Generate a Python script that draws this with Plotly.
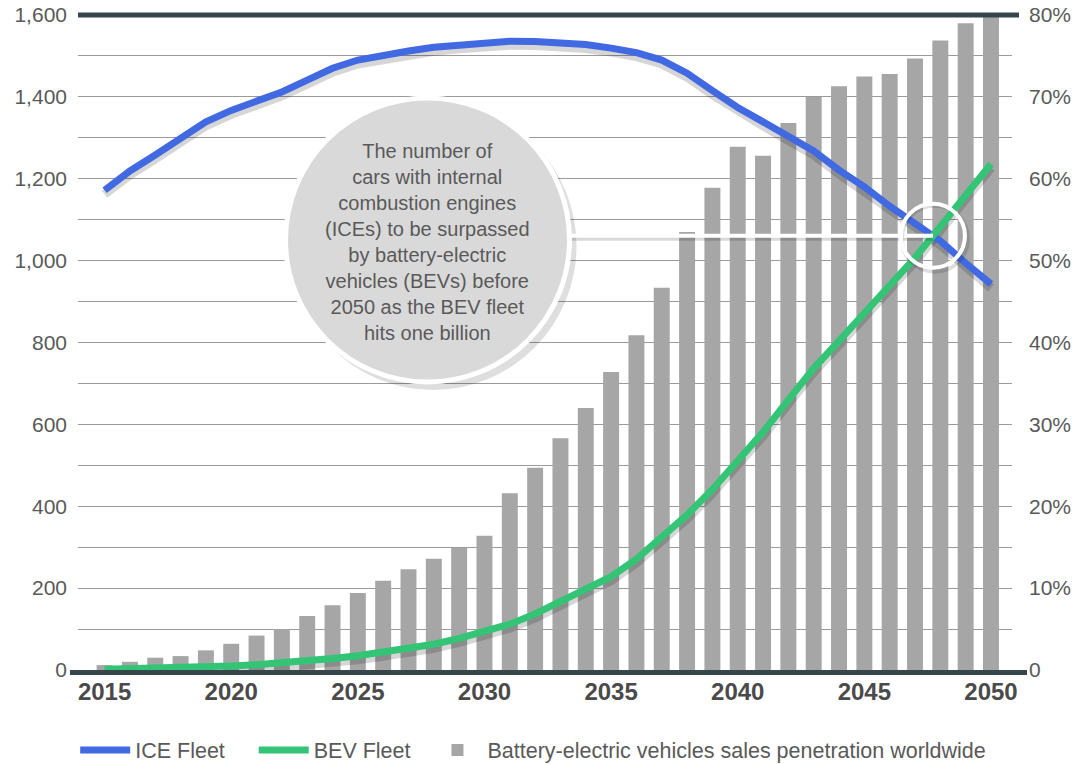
import plotly.graph_objects as go

years = list(range(2015, 2051))

# Battery-electric vehicles sales penetration worldwide (share)
bev_share = [0.6, 1.0, 1.5, 1.7, 2.4, 3.2, 4.2, 5.0, 6.6, 7.9,
             9.4, 10.9, 12.3, 13.6, 14.9, 16.4, 21.6, 24.7, 28.3, 32.0,
             36.4, 40.9, 46.7, 53.5, 58.9, 63.9, 62.8, 66.8, 70.0, 71.3,
             72.5, 72.8, 74.7, 76.9, 79.0, 80.0]

# ICE fleet (millions)
ice_fleet = [1172, 1219, 1258, 1301, 1339, 1367, 1389, 1412, 1441, 1470,
             1490, 1502, 1512, 1521, 1527, 1533, 1536, 1535, 1533, 1528,
             1519, 1508, 1490, 1458, 1415, 1374, 1339, 1303, 1268, 1221,
             1180, 1133, 1092, 1048, 994, 943]

# BEV fleet (millions)
bev_fleet = [2, 3, 4, 5, 7, 10, 13, 17, 22, 28,
             35, 43, 52, 63, 77, 93, 112, 137, 166, 195,
             228, 271, 325, 379, 441, 508, 581, 660, 737, 804,
             870, 938, 1007, 1083, 1160, 1236]

left_ticks = [0, 200, 400, 600, 800, 1000, 1200, 1400, 1600]
right_ticks = [0, 0.1, 0.2, 0.3, 0.4, 0.5, 0.6, 0.7, 0.8]
right_text = ["0", "10%", "20%", "30%", "40%", "50%", "60%", "70%", "80%"]
x_ticks = [2015, 2020, 2025, 2030, 2035, 2040, 2045, 2050]

legend_names = ["ICE Fleet", "BEV Fleet",
                "Battery-electric vehicles sales penetration worldwide"]

note = ("The number of<br>cars with internal<br>combustion engines<br>"
        "(ICEs) to be surpassed<br>by battery-electric<br>vehicles (BEVs) before<br>"
        "2050 as the BEV fleet<br>hits one billion")

BLUE = "#4169e1"
GREEN = "#33c476"
BAR = "#a6a6a6"
DARK = "#37464b"
TXT = "#595959"
FONT = "Liberation Sans, Arial, sans-serif"
NBSP = "\u00a0"

# layout geometry (pixels)
W, H = 1076, 764
L, R, T, B = 78, 64, 15, 94
PW = W - L - R
PH = H - T - B
XR = [2013.95, 2050.83]
FLEET_MAX = 1600
shadow_px = 4
shadow_off = shadow_px * FLEET_MAX / PH

fig = go.Figure()

fig.add_trace(go.Bar(
    x=years, y=[v / 100 for v in bev_share], yaxis="y",
    marker=dict(color=BAR, line=dict(width=0)),
    name=legend_names[2],
    legendrank=3, hoverinfo="skip"))

for series in (ice_fleet, bev_fleet):
    fig.add_trace(go.Scatter(
        x=years, y=series, yaxis="y2", mode="lines",
        line=dict(color="rgba(0,0,0,0.16)", width=9),
        showlegend=False, hoverinfo="skip"))

fig.add_trace(go.Scatter(
    x=years, y=ice_fleet, yaxis="y3", mode="lines",
    line=dict(color=BLUE, width=7), name=legend_names[0] + NBSP * 4, legendrank=1))
fig.add_trace(go.Scatter(
    x=years, y=bev_fleet, yaxis="y3", mode="lines",
    line=dict(color=GREEN, width=7), name=legend_names[1] + NBSP * 2, legendrank=2))

# crossing point of the two fleets
xc, yc = None, None
for i in range(len(years) - 1):
    d0 = ice_fleet[i] - bev_fleet[i]
    d1 = ice_fleet[i + 1] - bev_fleet[i + 1]
    if d0 > 0 >= d1:
        t = d0 / (d0 - d1)
        xc = years[i] + t
        yc = ice_fleet[i] + t * (ice_fleet[i + 1] - ice_fleet[i])
        break


def px_to_paper_x(px):
    return (px - L) / PW


def px_to_paper_y(py):
    return (H - B - py) / PH


def px_to_data_x(px):
    return XR[0] + (px - L) / PW * (XR[1] - XR[0])


shapes = []
# top and bottom dark rules
shapes.append(dict(type="line", xref="paper", yref="paper",
                   x0=px_to_paper_x(78), x1=px_to_paper_x(1019), y0=1, y1=1,
                   line=dict(color=DARK, width=5), layer="above"))
shapes.append(dict(type="line", xref="paper", yref="paper",
                   x0=px_to_paper_x(70), x1=px_to_paper_x(1027),
                   y0=px_to_paper_y(672.5), y1=px_to_paper_y(672.5),
                   line=dict(color=DARK, width=5), layer="above"))

# big note circle (shadow + circle)
cx, cy, r = 427.5, 240, 142
shapes.append(dict(type="circle", xref="paper", yref="paper",
                   x0=px_to_paper_x(cx - r + 4), x1=px_to_paper_x(cx + r + 7),
                   y0=px_to_paper_y(cy + r + 8), y1=px_to_paper_y(cy - r + 4),
                   fillcolor="rgba(0,0,0,0.13)", line=dict(width=0), layer="above"))
# connector shadow
shapes.append(dict(type="line", xref="x", yref="y3",
                   x0=px_to_data_x(cx + r - 5), x1=xc, y0=yc - 3 * FLEET_MAX / PH,
                   y1=yc - 3 * FLEET_MAX / PH,
                   line=dict(color="rgba(0,0,0,0.15)", width=4), layer="above"))
shapes.append(dict(type="line", xref="x", yref="y3",
                   x0=px_to_data_x(cx + r - 5), x1=xc, y0=yc, y1=yc,
                   line=dict(color="white", width=4), layer="above"))
shapes.append(dict(type="circle", xref="paper", yref="paper",
                   x0=px_to_paper_x(cx - r), x1=px_to_paper_x(cx + r),
                   y0=px_to_paper_y(cy + r), y1=px_to_paper_y(cy - r),
                   fillcolor="#d9d9d9", line=dict(color="white", width=5),
                   layer="above"))
# small crossing circle
shapes.append(dict(type="circle", xref="x", yref="y3",
                   xsizemode="pixel", ysizemode="pixel", xanchor=xc, yanchor=yc,
                   x0=-31, x1=35, y0=-36, y1=30,
                   line=dict(color="rgba(0,0,0,0.13)", width=4), layer="above"))
shapes.append(dict(type="circle", xref="x", yref="y3",
                   xsizemode="pixel", ysizemode="pixel", xanchor=xc, yanchor=yc,
                   x0=-32, x1=32, y0=-32, y1=32,
                   line=dict(color="white", width=4), layer="above"))

fig.update_layout(
    width=W, height=H,
    margin=dict(l=L, r=R, t=T, b=B, autoexpand=False),
    paper_bgcolor="white", plot_bgcolor="white",
    font=dict(family=FONT, size=20, color=TXT),
    bargap=0.37,
    showlegend=True,
    legend=dict(orientation="h", x=-0.003, xanchor="left", y=-0.122, yanchor="middle",
                font=dict(size=21.5, color=TXT), itemwidth=50,
                traceorder="normal"),
    xaxis=dict(range=XR, tickvals=x_ticks, showgrid=False, showline=False,
               zeroline=False, ticks="", ticklabelstandoff=5, automargin=False,
               tickfont=dict(family=FONT, size=24, color="#4a4a4a", weight="bold")),
    yaxis=dict(range=[0, 0.8], side="right", tickvals=right_ticks, ticktext=right_text,
               showgrid=True, gridcolor="#9a9a9a", gridwidth=1, zeroline=False,
               showline=False, ticks="", ticklabelstandoff=16, automargin=False,
               tickfont=dict(size=21, color=TXT),
               minor=dict(dtick=0.05, showgrid=True, gridcolor="#9a9a9a", gridwidth=1)),
    yaxis2=dict(range=[shadow_off, FLEET_MAX + shadow_off], overlaying="y",
                visible=False, automargin=False),
    yaxis3=dict(range=[0, FLEET_MAX], overlaying="y", side="left",
                tickvals=left_ticks, tickformat=",", showgrid=False, zeroline=False,
                showline=False, ticks="", ticklabelstandoff=10, automargin=False,
                tickfont=dict(size=21, color=TXT)),
    shapes=shapes,
    annotations=[dict(xref="paper", yref="paper", x=px_to_paper_x(cx),
                      y=px_to_paper_y(cy + 2), text=note, showarrow=False,
                      xanchor="center", yanchor="middle", align="center",
                      font=dict(size=20, color=TXT))],
)

fig.write_html("out.html")
